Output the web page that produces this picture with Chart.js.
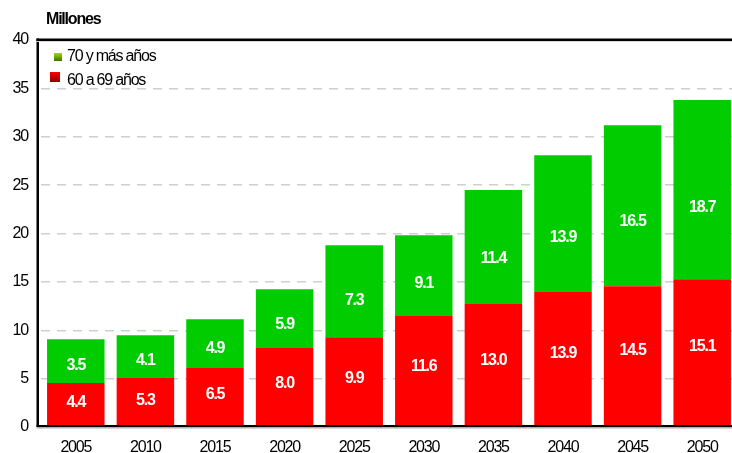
<!DOCTYPE html>
<html><head><meta charset="utf-8">
<script src="https://cdn.jsdelivr.net/npm/chart.js@4/dist/chart.umd.min.js"></script>
<style>html,body{margin:0;padding:0;background:#fff;overflow:hidden;width:732px;height:453px}canvas{display:block}</style>
</head><body>
<canvas id="c" width="740" height="453"></canvas>
<script>
// ---- data ----
const years = ['2005','2010','2015','2020','2025','2030','2035','2040','2045','2050'];
const values6069 = [4.55, 5.07, 6.1, 8.17, 9.28, 11.48, 12.72, 13.96, 14.55, 15.27];
const values70 = [4.52, 4.41, 5.04, 6.07, 9.51, 8.34, 11.78, 14.14, 16.65, 18.53];
const labels6069 = ['4.4','5.3','6.5','8.0','9.9','11.6','13.0','13.9','14.5','15.1'];
const labels70 = ['3.5','4.1','4.9','5.9','7.3','9.1','11.4','13.9','16.5','18.7'];
const yTickValues = [0, 5, 10, 15, 20, 25, 30, 35, 40];
const seriesNames = ['60 a 69 años', '70 y más años'];
const unitTitle = 'Millones';

// ---- fonts ----
function hasFont(name){
  const c = document.createElement('canvas').getContext('2d');
  c.font = '40px monospace';
  const a = c.measureText('mmmiiilll2005 años').width;
  c.font = '40px "' + name + '", monospace';
  return Math.abs(c.measureText('mmmiiilll2005 años').width - a) > 0.5;
}
const narrow = hasFont('Liberation Sans Narrow');
const FAMILY = narrow ? '"Liberation Sans Narrow", "Liberation Sans", Arial, sans-serif' : '"Liberation Sans", Arial, sans-serif';
const SPACING = narrow ? '0px' : '-1.2px';
const FS = 16;

const RED = '#ff0000', GREEN = '#00cc00';

const deco = {
  id: 'deco',
  beforeDraw(chart){ chart.ctx.letterSpacing = SPACING; },
  afterDatasetsDraw(chart){
    const ctx = chart.ctx;
    const fr = [0.54, 0.40];
    const labs = [labels6069, labels70];
    ctx.save();
    ctx.letterSpacing = SPACING;
    ctx.fillStyle = '#ffffff';
    ctx.font = 'bold ' + FS + 'px ' + FAMILY;
    ctx.textAlign = 'center';
    ctx.textBaseline = 'middle';
    chart.data.datasets.forEach((ds, i) => {
      const meta = chart.getDatasetMeta(i);
      meta.data.forEach((el, j) => {
        const y = el.base - fr[i] * (el.base - el.y);
        ctx.fillText(labs[i][j], el.x, y);
      });
    });
    ctx.restore();
  },
  afterDraw(chart){
    const ctx = chart.ctx, a = chart.chartArea;
    const W = chart.width;
    ctx.save();
    ctx.letterSpacing = SPACING;
    // frame
    ctx.fillStyle = '#000';
    ctx.fillRect(a.left - 4.5, a.top - 1.5, 2.5, a.bottom - a.top + 1.5);
    ctx.fillRect(a.left - 4.5, a.top - 1.5, W, 2.5);
    ctx.fillRect(a.left - 4.5, a.bottom - 2, W, 2);
    ctx.fillStyle = '#b0b0b0';
    ctx.fillRect(a.left - 4.5, a.bottom, W, 1.5);
    ctx.fillStyle = '#d8d8d8';
    ctx.fillRect(a.left - 4.5, a.top + 1, W, 1);
    // title
    ctx.fillStyle = '#000';
    ctx.font = 'bold ' + FS + 'px ' + FAMILY;
    ctx.textAlign = 'left';
    ctx.textBaseline = 'middle';
    ctx.fillText(unitTitle, 46, 20);
    // legend
    let g = ctx.createLinearGradient(0, 53, 0, 61);
    g.addColorStop(0, '#a8d800'); g.addColorStop(1, '#3c7000');
    ctx.fillStyle = g; ctx.fillRect(54, 53, 8, 8);
    g = ctx.createLinearGradient(0, 72, 0, 82);
    g.addColorStop(0, '#ff0000'); g.addColorStop(1, '#900000');
    ctx.fillStyle = g; ctx.fillRect(50, 72, 10, 10);
    ctx.fillStyle = '#000';
    ctx.font = FS + 'px ' + FAMILY;
    ctx.fillText(chart.data.datasets[1].label, 67, 57);
    ctx.fillText(chart.data.datasets[0].label, 67, 81);
    ctx.restore();
  }
};

new Chart(document.getElementById('c'), {
  type: 'bar',
  data: {
    labels: years,
    datasets: [
      { label: seriesNames[0], data: values6069, backgroundColor: RED, borderWidth: 0 },
      { label: seriesNames[1], data: values70, backgroundColor: GREEN, borderWidth: 0 }
    ]
  },
  options: {
    responsive: false,
    animation: false,
    devicePixelRatio: 1,
    barPercentage: 0.826,
    categoryPercentage: 1,
    layout: { padding: { top: 40, right: 3, left: 0, bottom: 0 } },
    plugins: { legend: { display: false }, tooltip: { enabled: false } },
    scales: {
      x: {
        stacked: true,
        grid: { display: false, drawTicks: false },
        border: { display: false },
        ticks: { color: '#000', font: { family: FAMILY, size: FS }, padding: 11, maxRotation: 0, autoSkip: false },
        afterFit(s){ s.height = 26; }
      },
      y: {
        stacked: true,
        min: 0, max: 40,
        afterBuildTicks(s){ s.ticks = yTickValues.map(v => ({ value: v })); },
        grid: {
          drawTicks: false,
          lineWidth: 1.5,
          color: (c) => (c.tick && (c.tick.value === 0 || c.tick.value === 40)) ? 'rgba(0,0,0,0)' : '#cfcfcf'
        },
        border: { display: false, dash: [9, 7] },
        ticks: { color: '#000', font: { family: FAMILY, size: FS }, padding: 13 },
        afterFit(s){ s.width = 41; }
      }
    }
  },
  plugins: [deco]
});
</script>
</body></html>
